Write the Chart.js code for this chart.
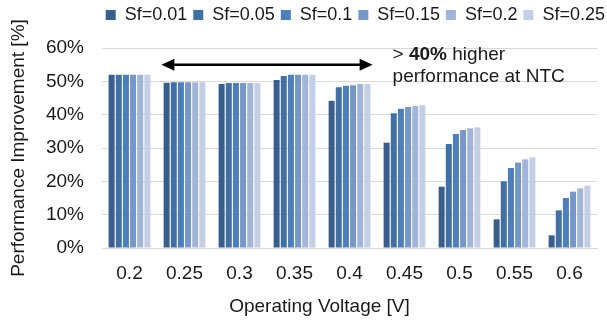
<!DOCTYPE html>
<html>
<head>
<meta charset="utf-8">
<script src="https://cdn.jsdelivr.net/npm/chart.js@4.4.1/dist/chart.umd.min.js"></script>
<style>
  html, body { margin: 0; padding: 0; background: #fff; }
  #wrap { width: 607px; height: 323px; }
</style>
</head>
<body>
<div id="wrap"><canvas id="chartCanvas" width="607" height="323"></canvas></div>
<script>
// operating voltages (x categories)
var voltages = ['0.2', '0.25', '0.3', '0.35', '0.4', '0.45', '0.5', '0.55', '0.6'];

// performance improvement [%] per Sf value
var sf001 = [52.0, 49.6, 49.2, 50.4, 44.2, 31.6, 18.4, 8.6, 3.8];
var sf005 = [52.0, 49.7, 49.5, 51.6, 48.2, 40.4, 31.2, 20.0, 11.3];
var sf01  = [52.0, 49.7, 49.5, 52.0, 48.7, 41.8, 34.2, 24.0, 15.0];
var sf015 = [52.0, 49.7, 49.5, 52.0, 48.8, 42.3, 35.4, 25.6, 16.9];
var sf02  = [52.0, 49.7, 49.5, 52.0, 49.2, 42.6, 35.9, 26.6, 17.9];
var sf025 = [52.0, 49.7, 49.5, 52.0, 49.2, 42.8, 36.2, 27.2, 18.7];

var seriesNames = ['Sf=0.01', 'Sf=0.05', 'Sf=0.1', 'Sf=0.15', 'Sf=0.2', 'Sf=0.25'];
var seriesColors = ['#3a5e8c', '#4270a5', '#4c7fbc', '#7797c9', '#a2b5d8', '#c4cfe5'];
var seriesData = [sf001, sf005, sf01, sf015, sf02, sf025];

var yTicks = [0, 10, 20, 30, 40, 50, 60];

// annotation: arrow spanning 0.25 .. 0.4 at this level
var arrowFrom = 1, arrowTo = 4, arrowLevel = 55;

var FONT = 'Liberation Sans, Arial, sans-serif';
var INK = '#1a1a1a';

var datasets = seriesData.map(function (d, i) {
  return {
    label: seriesNames[i],
    data: d,
    backgroundColor: seriesColors[i],
    borderWidth: 0,
    barPercentage: 0.84,
    categoryPercentage: 0.78
  };
});

// legend: fixed height, and pushed right so it ends where the original does
var legendBox = {
  id: 'legendBox',
  beforeInit: function (chart) {
    var fit = chart.legend.fit;
    chart.legend.fit = function () {
      fit.bind(chart.legend)();
      this.height = 48;
    };
  },
  afterLayout: function (chart) {
    chart.legend.left = 0;
    chart.legend.right = 611;
  }
};

// the arrow, the note and the x axis title (sits left of the plot centre)
var note = {
  id: 'note',
  afterDatasetsDraw: function (chart) {
    var ctx = chart.ctx;
    var x = chart.scales.x, y = chart.scales.y;
    var cw = x.getPixelForValue(1) - x.getPixelForValue(0);
    var x1 = x.getPixelForValue(arrowFrom) - cw * 0.42;
    var x2 = x.getPixelForValue(arrowTo) + cw * 0.42;
    var ay = y.getPixelForValue(arrowLevel);
    ctx.save();
    ctx.strokeStyle = '#000';
    ctx.fillStyle = '#000';
    ctx.lineWidth = 2.5;
    ctx.beginPath();
    ctx.moveTo(x1 + 10, ay);
    ctx.lineTo(x2 - 10, ay);
    ctx.stroke();
    ctx.beginPath();
    ctx.moveTo(x1, ay); ctx.lineTo(x1 + 13, ay - 6); ctx.lineTo(x1 + 13, ay + 6); ctx.closePath();
    ctx.fill();
    ctx.beginPath();
    ctx.moveTo(x2, ay); ctx.lineTo(x2 - 13, ay - 6); ctx.lineTo(x2 - 13, ay + 6); ctx.closePath();
    ctx.fill();

    var tx = x2 + 20;
    ctx.fillStyle = INK;
    ctx.textBaseline = 'middle';
    ctx.textAlign = 'left';
    ctx.font = '19px ' + FONT;
    var ty1 = ay - 9.5, ty2 = ay + 12.5;
    ctx.fillText('> ', tx, ty1);
    var w = ctx.measureText('> ').width;
    ctx.font = 'bold 19px ' + FONT;
    ctx.fillText('40%', tx + w, ty1);
    w += ctx.measureText('40%').width;
    ctx.font = '19px ' + FONT;
    ctx.fillText(' higher', tx + w, ty1);
    ctx.fillText('performance at NTC', tx, ty2);

    // x axis title
    ctx.textAlign = 'center';
    ctx.fillText('Operating Voltage [V]', (x.left + x.right) / 2 - 30, x.bottom - 16);
    ctx.restore();
  }
};

var ctx = document.getElementById('chartCanvas').getContext('2d');
var chart = new Chart(ctx, {
  type: 'bar',
  data: { labels: voltages, datasets: datasets },
  options: {
    responsive: false,
    animation: false,
    layout: { padding: { left: 0, right: 10, top: 0, bottom: 0 } },
    plugins: {
      legend: {
        position: 'top',
        align: 'end',
        labels: {
          boxWidth: 10,
          boxHeight: 10,
          padding: 6,
          color: INK,
          font: { family: FONT, size: 18 }
        }
      },
      tooltip: { enabled: false }
    },
    scales: {
      x: {
        grid: { display: false, drawTicks: false },
        border: { color: '#d9d9d9', width: 1 },
        ticks: { color: INK, font: { family: FONT, size: 19 }, padding: 14, maxRotation: 0 },
        title: { display: false },
        afterFit: function (s) { s.height = 75; }
      },
      y: {
        min: 0, max: 60,
        afterBuildTicks: function (s) { s.ticks = yTicks.map(function (v) { return { value: v }; }); },
        grid: { color: '#d9d9d9', lineWidth: 1, drawTicks: false },
        border: { display: false },
        ticks: {
          color: INK, font: { family: FONT, size: 19 }, padding: 18,
          callback: function (v) { return v + '%'; }
        },
        title: {
          display: true, text: 'Performance Improvement [%]', color: INK,
          font: { family: FONT, size: 19 }, padding: { top: 7, bottom: 0 }
        },
        afterFit: function (s) { s.width = 102; }
      }
    }
  },
  plugins: [legendBox, note]
});
</script>
</body>
</html>
